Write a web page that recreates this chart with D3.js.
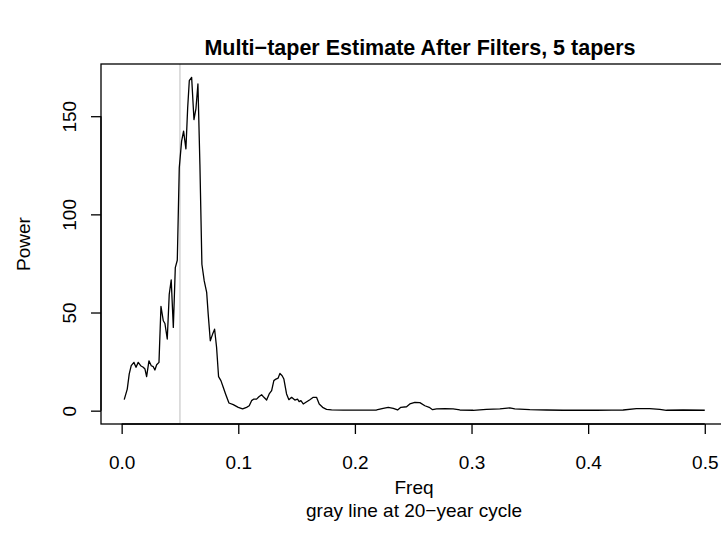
<!DOCTYPE html>
<html>
<head>
<meta charset="utf-8">
<script src="https://cdn.jsdelivr.net/npm/d3@7"></script>
<style>
  body { margin: 0; background: #fff; }
  svg { display: block; font-family: "Liberation Sans", Arial, sans-serif; }
</style>
</head>
<body>
<div id="chart"></div>
<script>
// -------- Data --------
const freq = [
  0.0022, 0.0048, 0.0065, 0.0082, 0.0105, 0.0123, 0.0142, 0.0163, 0.0185, 0.0200,
  0.0214, 0.0234, 0.0254, 0.0271, 0.0285, 0.0300, 0.0320, 0.0337, 0.0357, 0.0371,
  0.0391, 0.0408, 0.0425, 0.0443, 0.0460, 0.0477, 0.0494, 0.0514, 0.0531, 0.0551,
  0.0566, 0.0580, 0.0600, 0.0620, 0.0637, 0.0654, 0.0671, 0.0688, 0.0708, 0.0729,
  0.0742, 0.0760, 0.0780, 0.0797, 0.0814, 0.0831, 0.0851, 0.0871, 0.0891, 0.0920,
  0.0957, 0.1000, 0.1037, 0.1071, 0.1094, 0.1114, 0.1134, 0.1157, 0.1177, 0.1200,
  0.1220, 0.1243, 0.1265, 0.1286, 0.1305, 0.1323, 0.1342, 0.1357, 0.1376, 0.1391,
  0.1414, 0.1434, 0.1457, 0.1485, 0.1508, 0.1522, 0.1537, 0.1557, 0.1580, 0.1614,
  0.1643, 0.1671, 0.1694, 0.1723, 0.1757, 0.1800, 0.1900, 0.2000, 0.2100, 0.2186,
  0.2243, 0.2286, 0.2329, 0.2366, 0.2394, 0.2443, 0.2471, 0.2514, 0.2557, 0.2600,
  0.2637, 0.2666, 0.2700, 0.2771, 0.2842, 0.2900, 0.3014, 0.3128, 0.3243, 0.3328,
  0.3371, 0.3500, 0.3643, 0.3785, 0.3900, 0.4071, 0.4200, 0.4300, 0.4414, 0.4528,
  0.4614, 0.4671, 0.4814, 0.5000
];
const power = [
  5.6, 11.0, 18.7, 22.9, 24.6, 22.1, 24.6, 22.9, 22.1, 21.2,
  17.3, 25.4, 22.9, 22.4, 20.7, 23.4, 24.6, 53.1, 45.8, 44.4,
  36.5, 59.3, 66.6, 42.4, 72.9, 76.6, 123.7, 137.3, 142.4, 133.4,
  154.2, 168.1, 169.8, 148.3, 153.9, 166.4, 125.4, 74.6, 66.1, 60.2,
  49.2, 35.6, 39.0, 41.5, 32.2, 17.3, 15.3, 11.9, 8.5, 3.9,
  3.1, 1.7, 0.9, 1.7, 2.5, 5.1, 5.9, 5.9, 7.1, 8.1,
  6.8, 5.4, 8.5, 10.2, 15.3, 16.1, 16.6, 19.0, 17.8, 16.1,
  8.5, 5.6, 6.8, 5.4, 5.9, 4.6, 5.1, 3.4, 4.3, 5.6,
  6.8, 6.8, 3.4, 1.7, 0.7, 0.4, 0.3, 0.3, 0.3, 0.35,
  1.2, 1.7, 1.2, 0.35, 1.7, 2.0, 3.4, 4.2, 4.1, 2.5,
  1.7, 0.5, 0.9, 1.0, 0.9, 0.35, 0.2, 0.7, 0.9, 1.4,
  0.9, 0.5, 0.35, 0.2, 0.2, 0.2, 0.3, 0.35, 1.0, 1.0,
  0.7, 0.2, 0.35, 0.2
];
const xTicks = [0, 0.1, 0.2, 0.3, 0.4, 0.5];
const yTicks = [0, 50, 100, 150];
const cycleFreq = 1 / 20;

// -------- Dimensions --------
const svgWidth = 721, svgHeight = 544;
const plot = { left: 101, right: 728, top: 64, bottom: 424 };
const fontAxis = 19, fontMain = 21.5;

const svg = d3.select('#chart').append('svg')
  .attr('width', svgWidth)
  .attr('height', svgHeight);

// R-style 4% padding on both axes
const xr = d3.extent(freq), yr = [0, d3.max(power)];
const xPad = (xr[1] - xr[0]) * 0.04, yPad = (yr[1] - yr[0]) * 0.04;

const x = d3.scaleLinear()
  .domain([xr[0] - xPad, xr[1] + xPad])
  .range([plot.left, plot.right]);
const y = d3.scaleLinear()
  .domain([yr[0] - yPad, yr[1] + yPad])
  .range([plot.bottom, plot.top]);

// -------- Gray reference line --------
svg.append('line')
  .attr('x1', x(cycleFreq)).attr('x2', x(cycleFreq))
  .attr('y1', plot.top).attr('y2', plot.bottom)
  .attr('stroke', '#bebebe').attr('stroke-width', 1);

// -------- Spectrum line --------
const line = d3.line().x((d, i) => x(freq[i])).y(d => y(d));
svg.append('path')
  .datum(power)
  .attr('d', line)
  .attr('fill', 'none')
  .attr('stroke', '#000')
  .attr('stroke-width', 1.3)
  .attr('stroke-linejoin', 'round');

// -------- Box --------
svg.append('rect')
  .attr('x', plot.left).attr('y', plot.top)
  .attr('width', plot.right - plot.left)
  .attr('height', plot.bottom - plot.top)
  .attr('fill', 'none').attr('stroke', '#000').attr('stroke-width', 1.3);

// -------- Axes --------
const xAxis = svg.append('g')
  .attr('transform', `translate(0,${plot.bottom})`)
  .call(d3.axisBottom(x).tickValues(xTicks).tickFormat(d3.format('.1f')).tickSize(10).tickPadding(0));
const yAxis = svg.append('g')
  .attr('transform', `translate(${plot.left},0)`)
  .call(d3.axisLeft(y).tickValues(yTicks).tickSize(10).tickPadding(0));

[xAxis, yAxis].forEach(g => {
  g.select('.domain').remove();
  g.selectAll('line').attr('stroke', '#000').attr('stroke-width', 1.3);
  g.selectAll('text').attr('fill', '#000').style('font-size', fontAxis + 'px')
    .style('font-family', '"Liberation Sans", Arial, sans-serif');
});
// axis lines between first and last tick
xAxis.append('line')
  .attr('x1', x(xTicks[0])).attr('x2', x(xTicks[xTicks.length - 1]))
  .attr('stroke', '#000').attr('stroke-width', 1.3);
yAxis.append('line')
  .attr('y1', y(yTicks[0])).attr('y2', y(yTicks[yTicks.length - 1]))
  .attr('stroke', '#000').attr('stroke-width', 1.3);

xAxis.selectAll('.tick text')
  .attr('y', 45).attr('dy', null);

// rotated y labels like R
yAxis.selectAll('.tick text')
  .attr('x', null)
  .attr('text-anchor', 'middle')
  .attr('transform', 'translate(-25.3,0) rotate(-90)')
  .attr('dy', null);

// -------- Titles --------
svg.append('text')
  .attr('x', 420).attr('y', 55)
  .attr('text-anchor', 'middle')
  .style('font-size', fontMain + 'px').style('font-weight', 'bold')
  .text('Multi\u2212taper Estimate After Filters, 5 tapers');

svg.append('text')
  .attr('x', 414).attr('y', 494)
  .attr('text-anchor', 'middle')
  .style('font-size', fontAxis + 'px')
  .text('Freq');

svg.append('text')
  .attr('x', 414).attr('y', 517)
  .attr('text-anchor', 'middle')
  .style('font-size', fontAxis + 'px')
  .text('gray line at 20\u2212year cycle');

svg.append('text')
  .attr('transform', `translate(30,${(plot.top + plot.bottom) / 2}) rotate(-90)`)
  .attr('text-anchor', 'middle')
  .style('font-size', fontAxis + 'px')
  .text('Power');
</script>
</body>
</html>
